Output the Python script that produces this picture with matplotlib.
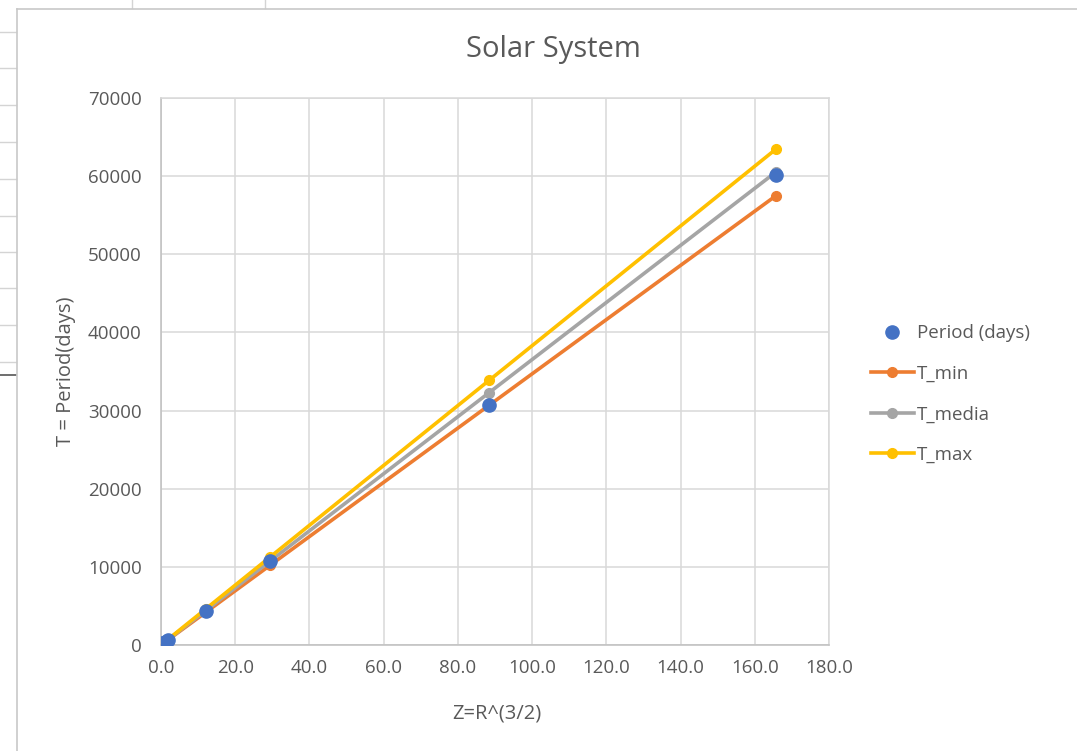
import matplotlib.pyplot as plt
from matplotlib.lines import Line2D

plt.rcParams['font.family'] = ['Open Sans', 'DejaVu Sans']

# planets: Mercury .. Neptune
z = [0.24, 0.61, 1.00, 1.88, 12.1, 29.4, 88.4, 165.6]
period = [88, 225, 365, 687, 4333, 10759, 30687, 60190]
t_min = [83, 212, 347, 652, 4199, 10202, 30675, 57460]
t_media = [88, 223, 365, 687, 4420, 10740, 32290, 60490]
t_max = [92, 234, 383, 720, 4634, 11260, 33860, 63420]

x_ticks = [0, 20, 40, 60, 80, 100, 120, 140, 160, 180]
y_ticks = [0, 10000, 20000, 30000, 40000, 50000, 60000, 70000]

W, H = 1077, 751
fig = plt.figure(figsize=(W / 100, H / 100), dpi=100)

# spreadsheet behind the chart object
bg = fig.add_axes([0, 0, 1, 1], zorder=0)
bg.set_xlim(0, W)
bg.set_ylim(H, 0)
bg.axis('off')
cell_grey = '#d4d4d4'
for y in [32, 68, 105, 142, 179, 216, 252, 288, 325, 362]:
    bg.add_line(Line2D([0, 16], [y, y], color=cell_grey, lw=1))
bg.add_line(Line2D([0, 16], [375, 375], color='#555555', lw=1.2))
for x in [132, 265]:
    bg.add_line(Line2D([x, x], [0, 8], color=cell_grey, lw=1))
# chart border
bg.add_line(Line2D([17, W], [8.5, 8.5], color='#c8c8c8', lw=1.2))
bg.add_line(Line2D([17, 17], [8.5, H], color='#c8c8c8', lw=1.2))

ax = fig.add_axes([161 / W, 1 - 645 / H, 668 / W, 547 / H], zorder=2)

text_c = '#595959'
grid_c = '#d9d9d9'
fs = 13.5

ax.plot(z, t_min, '-o', color='#ED7D31', lw=2.6, ms=7, label='T_min', zorder=3)
ax.plot(z, t_media, '-o', color='#A5A5A5', lw=2.6, ms=7, label='T_media', zorder=3)
ax.plot(z, t_max, '-o', color='#FFC000', lw=2.6, ms=7, label='T_max', zorder=3)
ax.plot(z, period, 'o', color='#4472C4', ms=9.5, label='Period (days)', zorder=4)

ax.set_xlim(0, 180)
ax.set_ylim(0, 70000)
ax.set_xticks(x_ticks)
ax.set_xticklabels([f'{v:.1f}' for v in x_ticks])
ax.set_yticks(y_ticks)
ax.set_yticklabels([str(v) for v in y_ticks])
ax.tick_params(axis='both', length=0, labelsize=fs, colors=text_c)
ax.tick_params(axis='y', pad=14)
ax.tick_params(axis='x', pad=10)
ax.grid(True, color=grid_c, lw=1.1)
ax.set_axisbelow(True)
for side in ['top', 'right']:
    ax.spines[side].set_color(grid_c)
for side in ['left', 'bottom']:
    ax.spines[side].set_color('#bfbfbf')
for sp in ax.spines.values():
    sp.set_linewidth(1.1)

fig.text(553 / W, 1 - 50 / H, 'Solar System', ha='center', va='center',
         fontsize=21, color=text_c)
fig.text(66 / W, 1 - 371 / H, 'T = Period(days)', rotation=90, ha='center',
         va='center', fontsize=14.5, color=text_c)
fig.text(497 / W, 1 - 713 / H, 'Z=R^(3/2)', ha='center', va='center',
         fontsize=14.5, color=text_c)

handles, labels = ax.get_legend_handles_labels()
order = [3, 0, 1, 2]
leg = fig.legend([handles[i] for i in order], [labels[i] for i in order],
                 loc='upper left', bbox_to_anchor=(862 / W, 1 - 315 / H),
                 frameon=False, fontsize=fs, handlelength=2.25,
                 handletextpad=0.2, labelspacing=1.2, borderpad=0)
for t in leg.get_texts():
    t.set_color(text_c)

fig.savefig('out.png', dpi=100, facecolor='white')
